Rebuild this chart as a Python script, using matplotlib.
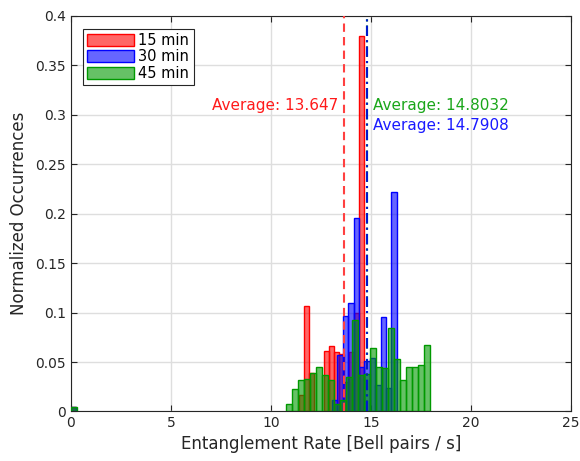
import numpy as np
import matplotlib
matplotlib.use("Agg")
import matplotlib.pyplot as plt
from matplotlib.patches import Patch

# ---------------- data ----------------
labels = ["15 min", "30 min", "45 min"]

# single outlier bin at rate 0 (all series)
zero_heights = [0.0045, 0.0045, 0.0045]

red_start, red_width = 11.42, 0.25
red_heights = [0.017, 0.107, 0.039, 0.0, 0.0, 0.061, 0.066, 0.060, 0.058,
               0.030, 0.060, 0.100, 0.380]

blue_start, blue_width = 13.05, 0.27
blue_heights = [0.012, 0.057, 0.097, 0.110, 0.196, 0.045, 0.051, 0.054,
                0.027, 0.0955, 0.024, 0.222]

green_start, green_width = 10.73, 0.30
green_heights = [0.0073, 0.0225, 0.032, 0.0333, 0.0387, 0.0448, 0.0367, 0.032,
                 0.0076, 0.012, 0.035, 0.093, 0.037, 0.038, 0.064, 0.045,
                 0.044, 0.084, 0.053, 0.032, 0.045, 0.045, 0.047, 0.067]

averages = [13.647, 14.7908, 14.8032]
avg_labels = ["Average: 13.647", "Average: 14.7908", "Average: 14.8032"]

xticks = [0, 5, 10, 15, 20, 25]
yticks = [0, 0.05, 0.1, 0.15, 0.2, 0.25, 0.3, 0.35, 0.4]
ytick_labels = ["0", "0.05", "0.1", "0.15", "0.2", "0.25", "0.3", "0.35", "0.4"]

# ---------------- style ----------------
RED = (1.0, 0.0, 0.0)
BLUE = (0.0, 0.0, 1.0)
GREEN = (0.0, 0.6, 0.0)
ALPHA = 0.6
AX_COL = (0.15, 0.15, 0.15)

plt.rcParams['font.family'] = ['DejaVu Sans']

fig = plt.figure(figsize=(5.8, 4.61), dpi=100)
ax = fig.add_axes([0.1224, 0.1074, 0.862, 0.858])

series = [
    (red_start, red_width, red_heights, RED, zero_heights[0]),
    (blue_start, blue_width, blue_heights, BLUE, zero_heights[1]),
    (green_start, green_width, green_heights, GREEN, zero_heights[2]),
]

for start, width, heights, col, zh in series:
    lefts = start + width * np.arange(len(heights))
    h = np.asarray(heights)
    keep = h > 0
    face = (*col, ALPHA)
    ax.bar(lefts[keep], h[keep], width=width, align='edge',
           facecolor=face, edgecolor=col, linewidth=1.0, zorder=3)
    ax.bar([0.0], [zh], width=width, align='edge',
           facecolor=face, edgecolor=col, linewidth=1.0, zorder=3)

# average lines
ax.axvline(averages[0], color=(1.0, 0.25, 0.25), linestyle=(0, (4, 2.5)),
           linewidth=1.5, zorder=4)
ax.axvline(averages[2], color=GREEN, linestyle=(0, (5, 2, 1, 2)),
           linewidth=1.5, zorder=4)
ax.axvline(averages[1], color=(0.0, 0.1, 0.8), linestyle=(0, (5, 2, 1, 2)),
           linewidth=1.5, zorder=5)

ax.text(13.35, 0.309, avg_labels[0], color=(1.0, 0.1, 0.1), fontsize=11,
        ha='right', va='center')
ax.text(15.1, 0.309, avg_labels[2], color=(0.1, 0.65, 0.1), fontsize=11,
        ha='left', va='center')
ax.text(15.1, 0.289, avg_labels[1], color=(0.1, 0.1, 1.0), fontsize=11,
        ha='left', va='center')

ax.set_xlim(0, 25)
ax.set_ylim(0, 0.4)
ax.set_xticks(xticks)
ax.set_yticks(yticks)
ax.set_yticklabels(ytick_labels)
ax.grid(True, color=(0.87, 0.87, 0.87), linewidth=1.0, zorder=0)
ax.set_axisbelow(True)
ax.tick_params(direction='in', length=4, width=0.8, colors=AX_COL,
               labelsize=10, top=True, right=True, labelcolor=AX_COL)
for s in ax.spines.values():
    s.set_color(AX_COL)
    s.set_linewidth(0.8)

ax.set_xlabel("Entanglement Rate [Bell pairs / s]", fontsize=12, color=AX_COL,
              labelpad=3)
ax.set_ylabel("Normalized Occurrences", fontsize=12, color=AX_COL, labelpad=5)

handles = [Patch(facecolor=(*c, ALPHA), edgecolor=c, linewidth=1.0)
           for c in (RED, BLUE, GREEN)]
leg = ax.legend(handles, labels, loc='upper left',
                bbox_to_anchor=(0.024, 0.968), fontsize=10.5, frameon=True,
                fancybox=False, framealpha=1, edgecolor=AX_COL,
                handlelength=3.2, handleheight=0.9, handletextpad=0.3,
                borderpad=0.3, labelspacing=0.1, borderaxespad=0)
leg.get_frame().set_linewidth(0.8)

fig.savefig("out.png", dpi=100)
